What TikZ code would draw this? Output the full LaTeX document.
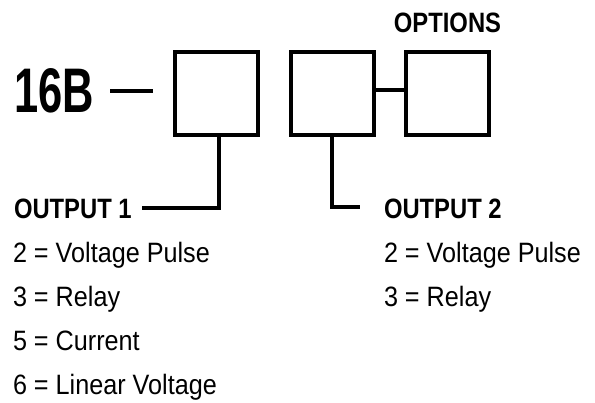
\documentclass[tikz,border=0pt]{standalone}
\usepackage{fontspec}
\setmainfont{Liberation Sans}
\newfontfamily\condrm[FakeStretch=0.9]{Liberation Sans}
\newfontfamily\condbf[FakeStretch=0.85]{Liberation Sans}
\newfontfamily\widebf[FakeStretch=0.69]{Liberation Sans}

\begin{document}
\begin{tikzpicture}[x=1pt,y=-1pt,line width=4pt,
    codebox/.style={draw,minimum size=83pt,inner sep=0pt},
    head/.style={anchor=base west,inner sep=0pt,font=\condbf\bfseries\fontsize{28}{30}\selectfont},
    item/.style={anchor=base west,inner sep=0pt,font=\condrm\fontsize{28}{30}\selectfont}]
  \useasboundingbox (0,0) rectangle (595,403);
  % model number and code boxes
  \node[anchor=base west,inner sep=0pt,font=\widebf\bfseries\fontsize{63}{66}\selectfont] (model) at (12,113) {16B};
  \node[codebox] (b1) at (216,94) {};
  \node[codebox] (b2) at (332,94) {};
  \node[codebox] (b3) at (447.5,94) {};
  \node[head,anchor=base] (opt) at (447.5,33) {OPTIONS};
  \coordinate (d1) at (110,91);
  \coordinate (d2) at (153,91);
  \draw (d1) -- (d2);
  \draw ([yshift=3.5pt]b2.east) -- ([yshift=3.5pt]b3.west);
  % output 1
  \node[head] (out1) at (12,219) {OUTPUT 1};
  \coordinate (e1) at (141.5,208.5);
  \draw ([xshift=2.5pt]b1.south) |- (e1);
  \node[item] (o1a) at (11,263) {2 = Voltage Pulse};
  \node[item] (o1b) at (11,307) {3 = Relay};
  \node[item] (o1c) at (11,351) {5 = Current};
  \node[item] (o1d) at (11,395) {6 = Linear Voltage};
  % output 2
  \node[head] (out2) at (382,219) {OUTPUT 2};
  \coordinate (e2) at (360,207.5);
  \draw (b2.south) |- (e2);
  \node[item] (o2a) at (382,263) {2 = Voltage Pulse};
  \node[item] (o2b) at (382,307) {3 = Relay};
\end{tikzpicture}
\end{document}
